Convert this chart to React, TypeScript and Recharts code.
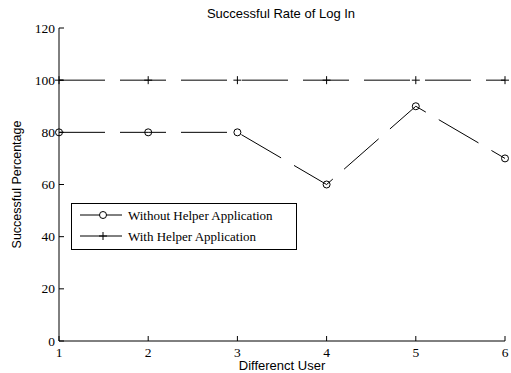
import React from 'react';
import { LineChart, Line, XAxis, YAxis, Legend } from 'recharts';

const users = [1, 2, 3, 4, 5, 6];
const withoutHelper = [80, 80, 80, 60, 90, 70];
const withHelper = [100, 100, 100, 100, 100, 100];
const yTicks = [0, 20, 40, 60, 80, 100, 120];

const data = users.map((u, i) => ({
  user: u,
  without: withoutHelper[i],
  with: withHelper[i],
}));

const serif = '"Liberation Serif", "Times New Roman", serif';
const sans = '"Liberation Sans", Arial, sans-serif';
const dash = '46 15';

const CircleDot = (props: any) => {
  const { cx, cy } = props;
  if (cx == null || cy == null) return null;
  return <circle cx={cx} cy={cy} r={3.5} fill="none" stroke="#000" strokeWidth={1} />;
};

const PlusDot = (props: any) => {
  const { cx, cy } = props;
  if (cx == null || cy == null) return null;
  return (
    <g stroke="#000" strokeWidth={1}>
      <line x1={cx - 4} y1={cy} x2={cx + 4} y2={cy} />
      <line x1={cx} y1={cy - 4} x2={cx} y2={cy + 4} />
    </g>
  );
};

const XTick = (props: any) => {
  const { x, y, payload } = props;
  return (
    <g>
      <line x1={x} y1={y} x2={x} y2={y - 5} stroke="#000" />
      <text x={x} y={y + 16} textAnchor="middle" fontFamily={serif} fontSize={13.5} fill="#000">
        {payload.value}
      </text>
    </g>
  );
};

const YTick = (props: any) => {
  const { x, y, payload } = props;
  return (
    <g>
      <line x1={x} y1={y} x2={x + 5} y2={y} stroke="#000" />
      <text x={x - 4} y={y + 4.5} textAnchor="end" fontFamily={serif} fontSize={13.5} fill="#000">
        {payload.value}
      </text>
    </g>
  );
};

const LegendBox = () => (
  <svg width={227} height={48} style={{ display: 'block' }}>
    <rect x={0.5} y={0.5} width={225} height={46} fill="#fff" stroke="#000" />
    <line x1={9} y1={12} x2={51} y2={12} stroke="#000" />
    <circle cx={32} cy={12} r={3.5} fill="#fff" stroke="#000" />
    <text x={57} y={16.5} fontFamily={serif} fontSize={13} fill="#000">
      Without Helper Application
    </text>
    <line x1={9} y1={33} x2={51} y2={33} stroke="#000" />
    <line x1={28} y1={33} x2={36} y2={33} stroke="#000" />
    <line x1={32} y1={29} x2={32} y2={37} stroke="#000" />
    <text x={57} y={37.5} fontFamily={serif} fontSize={13} fill="#000">
      With Helper Application
    </text>
  </svg>
);

export default function App() {
  return (
    <div style={{ position: 'absolute', left: 0, top: 0, width: 511, height: 373, background: '#fff' }}>
      <div
        style={{
          position: 'absolute',
          left: 0,
          top: 6,
          width: 562,
          textAlign: 'center',
          fontFamily: sans,
          fontSize: 13,
          lineHeight: '16px',
          color: '#000',
        }}
      >
        Successful Rate of Log In
      </div>
      <LineChart width={511} height={373} data={data} margin={{ top: 28, right: 6, bottom: 0, left: 0 }}>
        <XAxis
          dataKey="user"
          type="number"
          domain={[1, 6]}
          ticks={users}
          height={32}
          tickSize={0}
          tickMargin={0}
          axisLine={{ stroke: '#000' }}
          tick={<XTick />}
          label={{
            value: 'Differenct User',
            position: 'insideBottom',
            offset: 3,
            style: { fontFamily: sans, fontSize: 13, fill: '#000' },
          }}
        />
        <YAxis
          type="number"
          domain={[0, 120]}
          ticks={yTicks}
          width={59}
          tickSize={0}
          tickMargin={0}
          axisLine={{ stroke: '#000' }}
          tick={<YTick />}
          label={{
            value: 'Successful Percentage',
            angle: -90,
            position: 'insideLeft',
            offset: 0,
            content: (p: any) => {
              const vb = p.viewBox || {};
              const cx = 17;
              const cy = (vb.y ?? 28) + (vb.height ?? 313) / 2;
              return (
                <text
                  x={cx}
                  y={cy}
                  transform={`rotate(-90, ${cx}, ${cy})`}
                  textAnchor="middle"
                  dominantBaseline="central"
                  fontFamily={sans}
                  fontSize={12.5}
                  fill="#000"
                >
                  Successful Percentage
                </text>
              );
            },
          }}
        />
        <Legend
          layout="vertical"
          align="center"
          verticalAlign="middle"
          content={<LegendBox />}
          wrapperStyle={{ left: 71, top: 203, width: 227, height: 48 }}
        />
        <Line
          dataKey="without"
          stroke="#000"
          strokeWidth={1}
          strokeDasharray={dash}
          dot={<CircleDot />}
          activeDot={false}
          isAnimationActive={false}
        />
        <Line
          dataKey="with"
          stroke="#000"
          strokeWidth={1}
          strokeDasharray={dash}
          dot={<PlusDot />}
          activeDot={false}
          isAnimationActive={false}
        />
      </LineChart>
    </div>
  );
}
